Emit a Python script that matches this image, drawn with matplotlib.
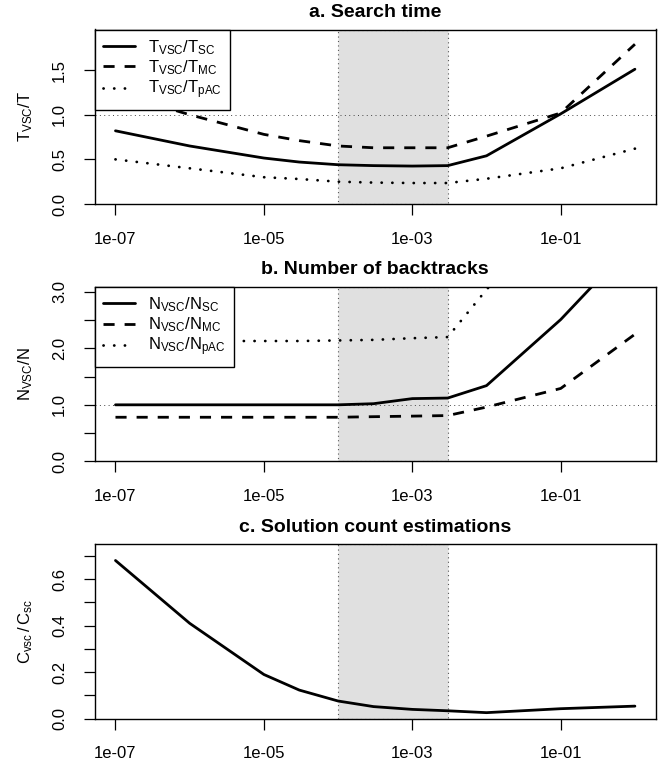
import matplotlib
matplotlib.use('Agg')
import matplotlib.pyplot as plt
from matplotlib.ticker import NullLocator

plt.rcParams['font.family'] = ['Liberation Sans', 'DejaVu Sans']
plt.rcParams['mathtext.fontset'] = 'custom'
plt.rcParams['mathtext.rm'] = 'Liberation Sans'
plt.rcParams['mathtext.it'] = 'Liberation Sans:italic'
plt.rcParams['mathtext.bf'] = 'Liberation Sans:bold'

# tolerance values (x axis, log scale)
tol = [1e-7, 1e-6, 1e-5, 3e-5, 1e-4, 3e-4, 1e-3, 3e-3, 1e-2, 1e-1, 1]

# a. search time ratios
t_sc = [0.82, 0.65, 0.515, 0.47, 0.44, 0.43, 0.425, 0.43, 0.54, 1.01, 1.51]
t_mc = [1.25, 1.0, 0.78, 0.71, 0.65, 0.63, 0.63, 0.63, 0.76, 1.02, 1.79]
t_pac = [0.50, 0.40, 0.30, 0.28, 0.25, 0.24, 0.235, 0.235, 0.283, 0.40, 0.62]

# b. backtrack ratios
n_sc = [1.0, 1.0, 1.0, 1.0, 1.0, 1.02, 1.11, 1.12, 1.34, 2.51, 3.9]
n_mc = [0.78, 0.78, 0.78, 0.78, 0.78, 0.79, 0.80, 0.81, 0.96, 1.29, 2.25]
n_pac = [2.13, 2.13, 2.13, 2.13, 2.14, 2.15, 2.18, 2.2, 3.04, 4.5, 6.0]

# c. solution count estimations
c_ratio = [0.68, 0.41, 0.19, 0.123, 0.076, 0.052, 0.040, 0.034, 0.026, 0.043, 0.054]

band = (1e-4, 3e-3)
xticks = [1e-7, 1e-5, 1e-3, 1e-1]
xlabels = ['1e-07', '1e-05', '1e-03', '1e-01']

solid = dict(color='black', lw=2.0, ls='-', solid_capstyle='round')
dashed = dict(color='black', lw=2.0, ls=(0, (4, 3.6)), dash_capstyle='butt')
dotted = dict(color='black', lw=2.0, ls=(0, (0.05, 3.8)), dash_capstyle='round')


def setup_axes(ax, title, ylim, yticks, ylabels, ylabel, hline=True):
    ax.set_xscale('log')
    ax.set_xlim(10 ** -7.28, 10 ** 0.28)
    ax.set_ylim(*ylim)
    ax.axvspan(band[0], band[1], facecolor='#e0e0e0', edgecolor='#555555',
               lw=0.8, ls=(0, (1, 3)), zorder=0)
    if hline:
        ax.axhline(1.0, color='#444444', lw=0.7, ls=(0, (1, 3.5)), zorder=1)
    ax.set_xticks(xticks)
    ax.set_xticklabels(xlabels)
    ax.xaxis.set_minor_locator(NullLocator())
    ax.set_yticks(yticks)
    ax.set_yticklabels(ylabels, rotation=90, va='center')
    ax.tick_params(direction='out', length=8, width=0.9, labelsize=12)
    ax.tick_params(axis='x', pad=12)
    ax.tick_params(axis='y', pad=12)
    for s in ax.spines.values():
        s.set_linewidth(1.0)
    ax.set_title(title, fontsize=14, fontweight='bold', pad=9)
    ax.set_ylabel(ylabel, fontsize=12, labelpad=12)


fig = plt.figure(figsize=(6.65, 7.63), dpi=100)
W, H = 665, 763
left, width = 94.7 / W, 561 / W
ax_h = 174.5 / H

ax_a = fig.add_axes([left, (H - 204) / H, width, ax_h])
ax_b = fig.add_axes([left, (H - 461.3) / H, width, ax_h])
ax_c = fig.add_axes([left, (H - 718.7) / H, width, ax_h])

# panel a
setup_axes(ax_a, 'a. Search time', (0, 1.955), [0, 0.5, 1.0, 1.5],
           ['0.0', '0.5', '1.0', '1.5'], r'$\mathrm{T_{VSC}/T}$')
ax_a.plot(tol, t_sc, label=r'$\mathrm{T_{VSC}/T_{SC}}$', **solid)
ax_a.plot(tol, t_mc, label=r'$\mathrm{T_{VSC}/T_{MC}}$', **dashed)
ax_a.plot(tol, t_pac, label=r'$\mathrm{T_{VSC}/T_{pAC}}$', **dotted)

# panel b
setup_axes(ax_b, 'b. Number of backtracks', (0, 3.09),
           [0, 0.5, 1.0, 1.5, 2.0, 2.5, 3.0],
           ['0.0', '', '1.0', '', '2.0', '', '3.0'], r'$\mathrm{N_{VSC}/N}$')
ax_b.plot(tol, n_sc, label=r'$\mathrm{N_{VSC}/N_{SC}}$', **solid)
ax_b.plot(tol, n_mc, label=r'$\mathrm{N_{VSC}/N_{MC}}$', **dashed)
ax_b.plot(tol, n_pac, label=r'$\mathrm{N_{VSC}/N_{pAC}}$', **dotted)

# panel c
setup_axes(ax_c, 'c. Solution count estimations', (0, 0.75),
           [0, 0.1, 0.2, 0.3, 0.4, 0.5, 0.6, 0.7],
           ['0.0', '', '0.2', '', '0.4', '', '0.6', ''],
           r'$\mathrm{C_{vsc}\,/\,C_{sc}}$', hline=False)
ax_c.plot(tol, c_ratio, **solid)

for ax in (ax_a, ax_b):
    leg = ax.legend(loc='upper left', borderaxespad=0, fancybox=False,
                    framealpha=1, edgecolor='black', fontsize=12,
                    handlelength=1.9, labelspacing=0.1, borderpad=0.5,
                    handletextpad=0.8)
    leg.get_frame().set_linewidth(1.0)
    leg.set_zorder(5)

fig.savefig('out.png', dpi=100)
